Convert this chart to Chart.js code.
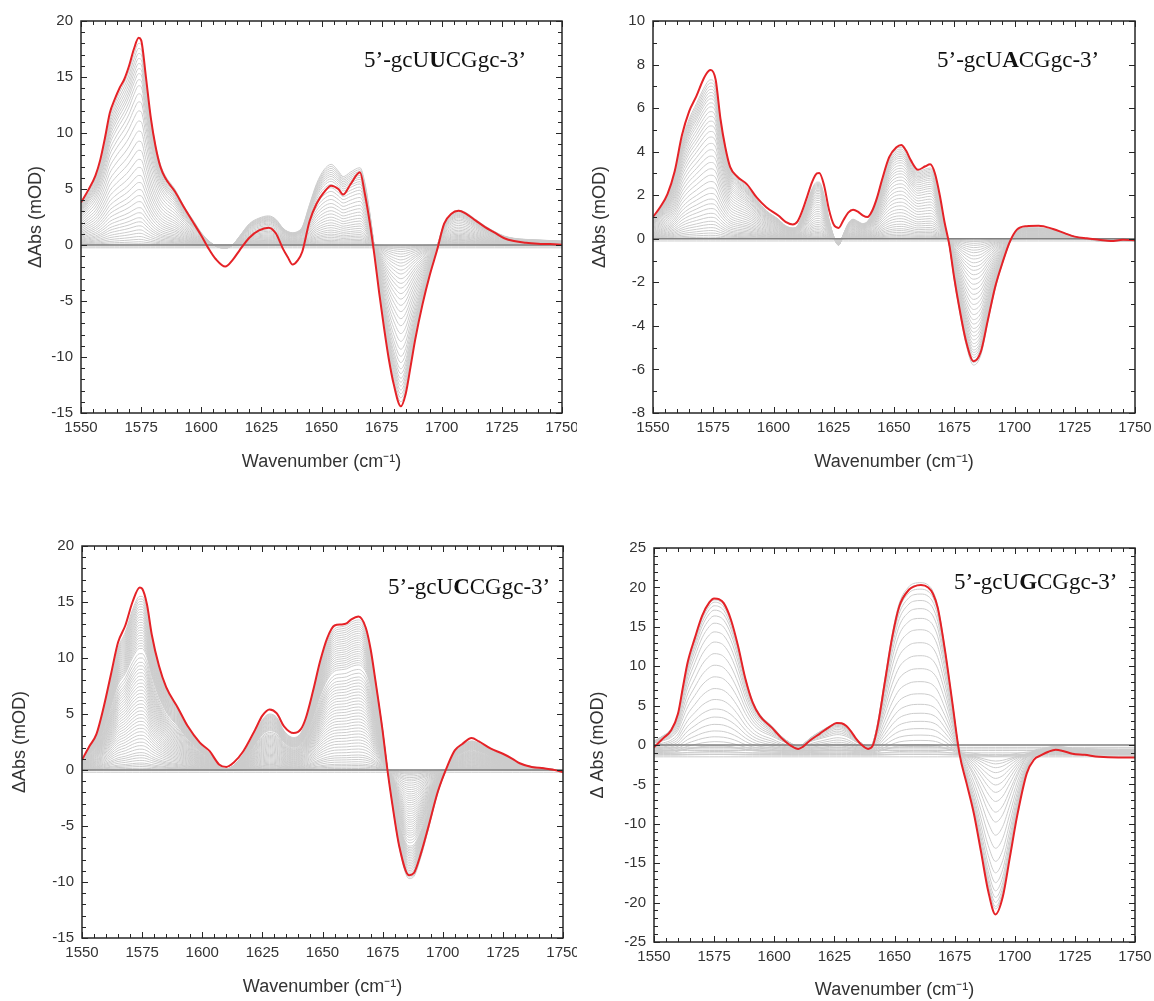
<!DOCTYPE html>
<html><head><meta charset="utf-8">
<script src="https://cdn.jsdelivr.net/npm/chart.js@4/dist/chart.umd.min.js"></script>
<style>
body{margin:0;background:#fff;width:1154px;height:1001px;overflow:hidden;position:relative}
canvas{position:absolute}
</style></head><body>
<canvas id="c1" width="577" height="490" style="left:0;top:0"></canvas>
<canvas id="c2" width="577" height="490" style="left:577px;top:0"></canvas>
<canvas id="c3" width="577" height="501" style="left:0;top:500px"></canvas>
<canvas id="c4" width="577" height="501" style="left:577px;top:500px"></canvas>
<script>
// ---------- DATA ----------
const xRange = [1550, 1750];

// Panel 1: 5'-gcUUCGgc-3'
const x1 = [1550,1553,1556,1558,1560,1562,1564,1566,1568,1570,1572,1574,1575,1577,1579,1581,1583,1585,1589,1593,1597,1600,1603,1606,1610,1613,1616,1620,1624,1628,1631,1634,1636,1638,1640,1642,1645,1648,1651,1654,1657,1659,1662,1666,1668,1670,1672,1674,1676,1678,1680,1683,1685,1687,1689,1692,1695,1698,1701,1704,1707,1710,1714,1718,1722,1726,1730,1735,1740,1745,1750];
const red1 = [3.8,4.9,6.2,7.6,9.6,11.8,13.0,14.0,14.8,16.0,17.5,18.5,18.3,15.0,11.4,8.8,7.0,6.0,4.8,3.3,1.9,0.85,-0.3,-1.25,-1.93,-1.35,-0.45,0.65,1.3,1.55,1.05,-0.35,-1.1,-1.75,-1.4,-0.6,2.1,3.7,4.7,5.3,5.0,4.5,5.4,6.5,4.6,2.1,-0.9,-4.3,-7.4,-10.2,-12.4,-14.4,-13.3,-10.9,-8.4,-5.3,-2.7,-0.5,1.9,2.8,3.05,2.8,2.2,1.6,1.1,0.6,0.35,0.2,0.12,0.08,0.02];
const gray1 = [3.7,4.8,6.0,7.4,9.3,11.4,12.6,13.6,14.5,15.6,17.0,18.0,17.9,14.8,11.4,8.9,7.2,6.2,5.0,3.4,2.1,1.1,0.4,-0.1,-0.3,0.0,0.8,1.9,2.4,2.6,2.3,1.5,1.2,1.1,1.2,1.6,3.6,5.5,6.7,7.2,6.6,6.1,6.5,6.9,5.6,3.0,-0.3,-3.8,-7.0,-9.8,-12.0,-14.0,-13.0,-10.6,-8.2,-5.2,-2.5,-0.2,1.9,2.8,3.1,2.9,2.3,1.7,1.2,0.8,0.6,0.5,0.45,0.4,0.35];
const grayLevels1 = [1,0.975,0.95,0.925,0.9,0.875,0.85,0.82,0.79,0.75,0.71,0.665,0.615,0.565,0.515,0.47,0.425,0.385,0.345,0.31,0.275,0.245,0.215,0.185,0.16,0.135,0.115,0.095,0.075,0.058,0.042,0.028,0.016,0.006,0,0];
const grayOffsets1 = [0,0,0,0,0,0,0,0,0,0,0,0,0,0,0,0,0,0,0,0,0,0,0,0,0,0,0,0,0,0,0,0,0,0,-0.25,-0.1];

// Panel 2: 5'-gcUACGgc-3'
const x2 = [1550,1553,1556,1559,1562,1565,1568,1571,1573,1574,1576,1578,1580,1582,1585,1589,1593,1597,1602,1605,1608,1610,1612,1614,1616,1618,1619,1621,1623,1625,1627,1629,1631,1633,1635,1637,1639,1641,1643,1645,1648,1651,1653,1655,1657,1660,1663,1665,1667,1669,1671,1673,1675,1677,1680,1683,1686,1689,1692,1695,1698,1701,1705,1710,1716,1721,1725,1730,1735,1740,1745,1750];
const red2 = [1.0,1.46,2.05,3.1,4.75,5.85,6.55,7.35,7.7,7.75,7.3,5.5,4.2,3.3,2.85,2.5,1.9,1.45,1.07,0.78,0.66,0.8,1.3,1.95,2.6,3.0,3.02,2.45,1.35,0.65,0.5,0.85,1.2,1.33,1.25,1.08,1.0,1.3,1.9,2.7,3.75,4.2,4.31,4.05,3.6,3.17,3.33,3.42,3.0,2.0,0.75,-0.3,-1.8,-3.1,-4.75,-5.62,-5.2,-3.7,-2.2,-1.1,-0.15,0.42,0.58,0.6,0.45,0.25,0.1,0.02,-0.04,-0.1,-0.05,-0.07];
const gray2 = [0.9,1.4,2.0,3.0,4.5,5.5,6.2,6.9,7.25,7.3,7.0,5.5,4.2,3.3,2.8,2.4,1.8,1.3,0.9,0.6,0.5,0.6,1.1,1.7,2.3,2.6,2.6,2.0,0.9,0.1,-0.3,0.2,0.7,0.9,0.8,0.7,0.8,1.2,1.9,2.7,3.7,4.15,4.2,4.0,3.55,3.1,3.2,3.25,2.9,1.9,0.7,-0.35,-1.9,-3.2,-4.9,-5.8,-5.35,-3.8,-2.3,-1.15,-0.2,0.35,0.5,0.5,0.4,0.25,0.1,0.0,-0.1,-0.1,-0.1,-0.1];
const grayLevels2 = [1,0.98,0.96,0.94,0.92,0.9,0.88,0.855,0.83,0.8,0.77,0.74,0.71,0.675,0.64,0.6,0.56,0.52,0.48,0.44,0.4,0.36,0.32,0.285,0.25,0.22,0.19,0.16,0.135,0.11,0.09,0.07,0.052,0.036,0.022,0.01,0,0];
const grayOffsets2 = [0,0,0,0,0,0,0,0,0,0,0,0,0,0,0,0,0,0,0,0,0,0,0,0,0,0,0,0,0,0,0,0,0,0,0,0,0,-0.1];

// Panel 3: 5'-gcUCCGgc-3'
const x3 = [1550,1553,1556,1559,1562,1565,1568,1571,1574,1575,1577,1579,1582,1585,1590,1594,1599,1603,1607,1610,1613,1617,1622,1625,1628,1631,1634,1638,1641,1643,1646,1649,1652,1655,1658,1660,1662,1665,1668,1670,1672,1675,1677,1679,1682,1686,1688,1691,1694,1698,1702,1705,1708,1712,1715,1720,1725,1729,1732,1737,1742,1746,1750];
const red3 = [0.9,2.1,3.2,5.6,8.5,11.4,12.9,15.0,16.3,16.2,14.8,12.1,9.3,7.4,5.5,3.9,2.45,1.7,0.5,0.27,0.65,1.65,3.6,4.85,5.4,5.05,3.9,3.3,3.65,4.6,7.0,9.7,11.8,12.9,13.0,13.1,13.45,13.7,12.7,10.8,8.0,3.5,0.0,-3.0,-6.9,-9.4,-9.2,-7.4,-5.1,-1.9,0.4,1.75,2.3,2.85,2.55,1.9,1.45,1.0,0.6,0.27,0.15,0.02,-0.2];
const gray3 = [0.8,2.0,3.1,5.3,8.1,10.9,12.3,14.3,15.5,15.5,14.4,12.0,9.3,7.4,5.5,3.9,2.4,1.5,0.4,0.1,0.4,1.4,3.3,4.5,5.0,4.7,3.5,2.9,3.3,4.3,6.7,9.4,11.5,12.6,12.8,12.9,13.2,13.4,12.5,10.7,8.0,3.6,0.1,-3.0,-7.0,-9.7,-9.5,-7.7,-5.3,-2.0,0.3,1.6,2.2,2.6,2.4,1.8,1.35,0.95,0.6,0.3,0.15,0.05,0.0];
const grayLevels3 = [1,0.985,0.97,0.955,0.94,0.925,0.91,0.895,0.88,0.865,0.85,0.835,0.82,0.805,0.79,0.775,0.76,0.745,0.73,0.715,0.7,0.67,0.645,0.62,0.6,0.58,0.56,0.54,0.52,0.5,0.48,0.46,0.44,0.42,0.4,0.38,0.36,0.34,0.32,0.3,0.28,0.26,0.24,0.22,0.2,0.18,0.16,0.14,0.12,0.1,0.085,0.07,0.055,0.04,0.03,0.02,0.01,0,0];
const grayOffsets3 = [0,0,0,0,0,0,0,0,0,0,0,0,0,0,0,0,0,0,0,0,0,0,0,0,0,0,0,0,0,0,0,0,0,0,0,0,0,0,0,0,0,0,0,0,0,0,0,0,0,0,0,0,0,0,0,0,0,0,-0.2];

// Panel 4: 5'-gcUGCGgc-3'
const x4 = [1550,1554,1557,1560,1562,1564,1567,1570,1573,1575,1577,1579,1582,1585,1588,1591,1594,1599,1603,1607,1610,1612,1615,1619,1623,1626,1628,1630,1632,1634,1636,1639,1641,1643,1646,1649,1652,1656,1658,1661,1664,1666,1668,1671,1674,1677,1680,1683,1686,1689,1692,1695,1698,1701,1705,1708,1711,1714,1717,1720,1724,1729,1735,1743,1750];
const red4 = [-0.3,0.9,1.8,4.0,7.3,10.5,13.6,16.4,18.1,18.6,18.5,18.0,15.9,12.5,8.4,5.4,3.7,2.2,0.9,-0.1,-0.5,-0.2,0.6,1.45,2.3,2.8,2.75,2.4,1.7,0.8,0.1,-0.5,-0.05,2.4,8.0,13.6,17.6,19.7,20.1,20.3,20.0,19.2,17.4,12.0,5.5,-1.1,-4.9,-8.7,-13.6,-18.6,-21.5,-19.3,-14.2,-9.0,-3.6,-1.85,-1.3,-0.85,-0.6,-0.75,-1.1,-1.25,-1.5,-1.6,-1.6];
const gray4 = [0.5,1.2,2.0,4.0,7.2,10.3,13.4,16.2,17.9,18.4,18.3,17.8,15.8,12.5,8.5,5.6,3.9,2.4,1.1,0.2,-0.2,0.1,0.9,1.7,2.4,2.8,2.7,2.3,1.6,0.8,0.3,-0.2,0.3,2.8,8.4,14.0,18.0,20.1,20.5,20.6,20.3,19.5,17.6,12.2,5.6,-1.0,-4.7,-8.5,-13.2,-18.0,-20.8,-18.8,-13.8,-8.6,-3.3,-1.5,-1.0,-0.6,-0.4,-0.5,-0.8,-0.9,-1.1,-1.2,-1.2];
const grayLevels4 = [1,0.985,0.96,0.93,0.89,0.84,0.78,0.71,0.63,0.55,0.47,0.4,0.33,0.27,0.22,0.175,0.135,0.1,0.072,0.05,0.03,0.015,0.005,0,0,0,0,0,0];
const grayOffsets4 = [0,0,0,0,0,0,0,0,0,0,0,-0.2,-0.3,-0.4,-0.5,-0.6,-0.7,-0.8,-0.9,-1.0,-0.8,-1.1,-1.3,-0.3,-0.5,-0.7,-1.0,-1.2,-1.5];

// Axis tick settings
const yLimits = [[-15,20,5],[-8,10,2],[-15,20,5],[-25,25,5]];
const xTickStep = 25;
const yTitles = ['ΔAbs (mOD)','ΔAbs (mOD)','ΔAbs (mOD)','Δ Abs (mOD)'];
const xTitle = 'Wavenumber (cm⁻¹)';
const labels = [['5’-gcU','U','CGgc-3’'],['5’-gcU','A','CGgc-3’'],['5’-gcU','C','CGgc-3’'],['5’-gcU','G','CGgc-3’']];

// ---------- LAYOUT ----------
const layouts = [
  {id:'c1', W:577, H:490, l:81, t:21, r:562, b:413, yTitlePad:25, xTitlePad:17, text:[364,67]},
  {id:'c2', W:577, H:490, l:76, t:21, r:558, b:413, yTitlePad:12, xTitlePad:17, text:[360,67]},
  {id:'c3', W:577, H:501, l:82, t:46, r:563, b:438, yTitlePad:9,  xTitlePad:3,  text:[388,94]},
  {id:'c4', W:577, H:501, l:77, t:48, r:558, b:442, yTitlePad:10, xTitlePad:0,  text:[377,89]}
];
const series = [
  {x:x1, red:red1, gray:gray1, lv:grayLevels1, off:grayOffsets1},
  {x:x2, red:red2, gray:gray2, lv:grayLevels2, off:grayOffsets2},
  {x:x3, red:red3, gray:gray3, lv:grayLevels3, off:grayOffsets3},
  {x:x4, red:red4, gray:gray4, lv:grayLevels4, off:grayOffsets4}
];

Chart.defaults.font.family = '"Liberation Sans", Arial, sans-serif';
Chart.defaults.color = '#333';

const framePlugin = {
  id: 'frame',
  afterDraw(chart, args, o) {
    const {ctx, chartArea:{left, top, right, bottom}} = chart;
    const xs = chart.scales.x, ys = chart.scales.y;
    ctx.save();
    ctx.strokeStyle = '#262626';
    ctx.lineWidth = 1;
    ctx.beginPath();
    for (let k = 0; ; k++) {
      const v = xs.min + k * 5;
      if (v > xs.max + 1e-9) break;
      const px = Math.round(xs.getPixelForValue(v)) + 0.5;
      const len = (k % 5 === 0) ? 6 : 4;
      ctx.moveTo(px, bottom); ctx.lineTo(px, bottom - len);
      ctx.moveTo(px, top); ctx.lineTo(px, top + len);
    }
    const per = Math.round(o.yMajor);
    for (let k = 0; ; k++) {
      const v = ys.min + k;
      if (v > ys.max + 1e-9) break;
      const py = Math.round(ys.getPixelForValue(v)) + 0.5;
      const len = (k % per === 0) ? 6 : 4;
      ctx.moveTo(left, py); ctx.lineTo(left + len, py);
      ctx.moveTo(right, py); ctx.lineTo(right - len, py);
    }
    ctx.stroke();
    ctx.lineWidth = 1.5;
    ctx.strokeRect(left, top, right - left, bottom - top);
    // sequence label
    let tx = o.text[0];
    ctx.fillStyle = '#111';
    ctx.textBaseline = 'alphabetic';
    o.parts.forEach((p, i) => {
      ctx.font = (i === 1 ? 'bold ' : '') + '23px "Liberation Serif", serif';
      ctx.fillText(p, tx, o.text[1]);
      tx += ctx.measureText(p).width;
    });
    ctx.restore();
  }
};

layouts.forEach((L, idx) => {
  const s = series[idx];
  const [yMin, yMax, yStep] = yLimits[idx];
  const datasets = [];
  datasets.push({data: s.x.map((x, i) => ({x, y: s.red[i]})), borderColor: '#e52227', borderWidth: 2, order: 0});
  datasets.push({data: [{x: xRange[0], y: 0}, {x: xRange[1], y: 0}], borderColor: '#808080', borderWidth: 1.5, order: 1, cubicInterpolationMode: 'default', tension: 0});
  s.lv.forEach((f, k) => {
    datasets.push({data: s.x.map((x, i) => ({x, y: f * s.gray[i] + s.off[k]})), borderColor: 'rgb(204,204,204)', borderWidth: 1, order: 2});
  });
  new Chart(document.getElementById(L.id), {
    type: 'line',
    data: {datasets},
    options: {
      responsive: false, animation: false, devicePixelRatio: 1,
      layout: {padding: {top: L.t, right: L.W - L.r, left: 0, bottom: 0}},
      elements: {point: {radius: 0}, line: {cubicInterpolationMode: 'monotone', fill: false}},
      plugins: {legend: {display: false}, tooltip: {enabled: false},
        frame: {yMajor: yStep, text: L.text, parts: labels[idx]}},
      scales: {
        x: {type: 'linear', min: xRange[0], max: xRange[1],
          ticks: {stepSize: xTickStep, padding: 6, font: {size: 15}, color: '#333', maxRotation: 0, autoSkip: false, callback: v => String(v)},
          grid: {display: false, drawTicks: false}, border: {display: false},
          title: {display: true, text: xTitle, font: {size: 18}, color: '#333', padding: {top: 0, bottom: L.xTitlePad}},
          afterFit(sc) { sc.height = L.H - L.b; sc.paddingLeft = 0; sc.paddingRight = 0; }
        },
        y: {type: 'linear', min: yMin, max: yMax,
          ticks: {stepSize: yStep, padding: 8, font: {size: 15}, color: '#333', callback: v => String(v)},
          grid: {display: false, drawTicks: false}, border: {display: false},
          title: {display: true, text: yTitles[idx], font: {size: 18}, color: '#333', padding: {top: L.yTitlePad, bottom: 0}},
          afterFit(sc) { sc.width = L.l; sc.paddingTop = 0; sc.paddingBottom = 0; }
        }
      }
    },
    plugins: [framePlugin]
  });
});
</script>
</body></html>
